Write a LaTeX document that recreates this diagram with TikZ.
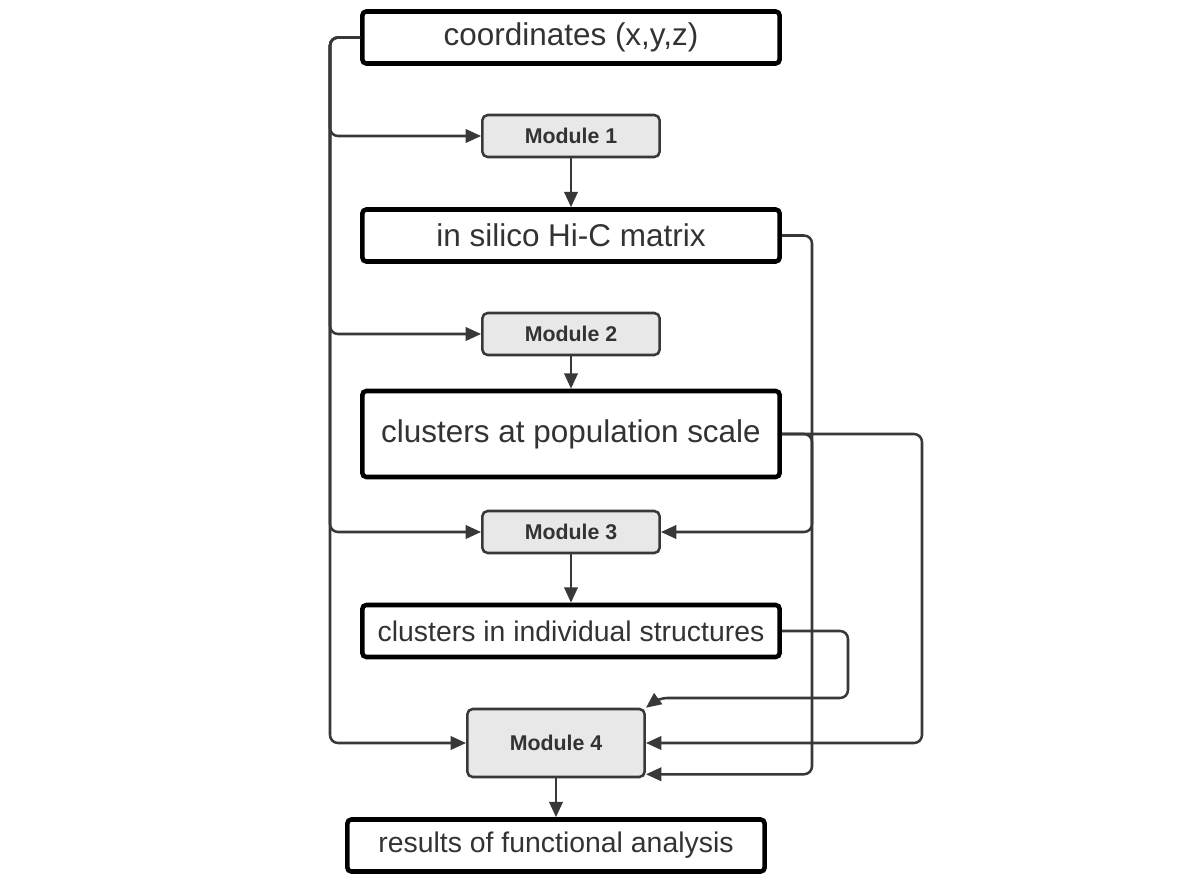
\documentclass[tikz,border=0pt]{standalone}
\usepackage{fontspec}
\setmainfont{Liberation Sans}
\usetikzlibrary{positioning,arrows.meta,calc}
\definecolor{ink}{HTML}{333333}
\definecolor{wire}{HTML}{383838}
\definecolor{modfill}{HTML}{E8E8E8}
\tikzset{
  flow/.style={-{Triangle[length=11.5pt,width=10pt]}, line width=1.9pt, draw=wire, rounded corners=6pt},
  dbox/.style={draw=black, fill=white, line width=3.4pt, rounded corners=3pt,
    minimum width=313pt, minimum height=39pt, inner sep=0pt, text=ink,
    font=\fontsize{23.6}{28}\selectfont},
  dsmall/.style={dbox, font=\fontsize{21.3}{25}\selectfont},
  mbox/.style={draw=wire, fill=modfill, line width=1.9pt, rounded corners=4pt,
    minimum width=133pt, minimum height=31.5pt, inner sep=0pt, text=ink,
    font=\bfseries\fontsize{16}{19}\selectfont},
}
\begin{document}
\begin{tikzpicture}[x=0.75pt,y=-0.75pt]
  \useasboundingbox (0,0) rectangle (1183,889);
  % boxes
  \node[dbox] (coords) at (571,37.5) {coordinates (x,y,z)};
  \node[mbox] (m1) at (571,136) {Module 1};
  \node[dbox] (hic) at (571,235.5) {in silico Hi-C matrix};
  \node[mbox] (m2) at (571,334) {Module 2};
  \node[dbox, minimum height=64.5pt] (pop) at (571,434) {clusters at population scale};
  \node[mbox] (m3) at (571,532) {Module 3};
  \node[dsmall] (ind) at (571,631) {clusters in individual structures};
  \node[mbox, minimum height=51pt] (m4) at (556,743) {Module 4};
  \node[dsmall] (res) at (556,845.5) {results of functional analysis};
  % routing columns
  \coordinate (trunk) at (330,0);
  \coordinate (colA) at (812,0);
  \coordinate (colB) at (922,0);
  \coordinate (colC) at (848,0);
  \coordinate (elbow) at (659,698);
  \coordinate (m4low) at ([yshift=3pt]m4.south east);
  % left trunk
  \draw[flow] (coords.west) -| (trunk |- m1.west) -- (m1.west);
  \draw[flow] (coords.west) -| (trunk |- m2.west) -- (m2.west);
  \draw[flow] (coords.west) -| (trunk |- m3.west) -- (m3.west);
  \draw[flow] (coords.west) -| (trunk |- m4.west) -- (m4.west);
  % main column
  \draw[flow] (m1) -- (hic);
  \draw[flow] (m2) -- (pop);
  \draw[flow] (m3) -- (ind);
  \draw[flow] (m4) -- (res);
  % right side
  \draw[flow] (hic.east) -| (colA |- m4low) -- (m4low);
  \draw[flow] (pop.east) -| (colA |- m3.east) -- (m3.east);
  \draw[flow] (pop.east) -| (colB |- m4.east) -- (m4.east);
  \draw[flow] (ind.east) -| (colC |- elbow) -- (elbow) -- (m4.north east);
\end{tikzpicture}
\end{document}
